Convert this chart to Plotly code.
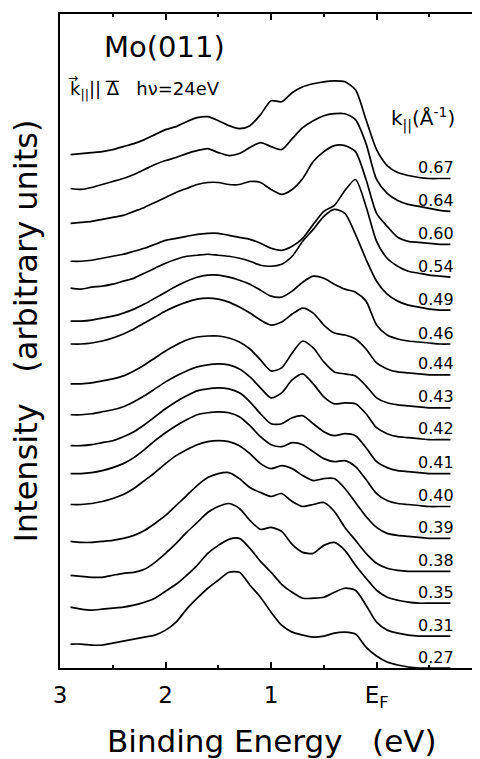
import plotly.graph_objects as go

# Binding energy grid (eV)
ENERGY = [2.9, 2.8, 2.7, 2.6, 2.5, 2.4, 2.3, 2.2, 2.1, 2.0, 1.9, 1.8, 1.7, 1.6, 1.5, 1.4, 1.3, 1.2, 1.1, 1.0,
          0.9, 0.8, 0.7, 0.6, 0.5, 0.4, 0.3, 0.2, 0.1, 0.0, -0.1, -0.2, -0.3, -0.4, -0.5, -0.6, -0.7]

K_LABELS = ["0.67", "0.64", "0.60", "0.54", "0.49", "0.46", "0.44", "0.43",
            "0.42", "0.41", "0.40", "0.39", "0.38", "0.35", "0.31", "0.27"]

# vertical stacking offset of each spectrum (arbitrary units)
OFFSETS = [491, 458, 425, 392, 359, 325, 294, 261, 229, 195, 162, 130, 97, 65, 32, 0]

I_067 = [24, 25, 26, 27, 29, 32, 35, 39, 44, 49, 52, 57, 61, 62, 58, 53, 50, 53, 64, 78, 77, 86, 92, 95, 97, 98, 97, 89, 59, 29, 13, 6, 3, 1, 0, 0, 0]
I_064 = [23, 22, 24, 27, 30, 33, 37, 42, 47, 51, 54, 58, 61, 63, 59, 56, 58, 64, 69, 65, 62, 73, 84, 91, 96, 98, 98, 92, 68, 32, 18, 11, 7, 5, 3, 1, 0]
I_060 = [21, 22, 23, 25, 27, 29, 33, 37, 42, 47, 52, 56, 60, 62, 62, 60, 60, 63, 62, 55, 50, 55, 66, 83, 93, 99, 99, 93, 65, 31, 18, 7, 3, 2, 1, 0, 0]
I_054 = [16, 16, 17, 19, 21, 23, 26, 29, 33, 37, 39, 41, 43, 44, 44, 42, 40, 38, 34, 29, 27, 31, 39, 53, 66, 72, 87, 98, 71, 36, 19, 11, 6, 4, 2, 1, 0]
I_049 = [22, 21, 23, 24, 26, 29, 32, 37, 42, 47, 51, 54, 55, 56, 55, 54, 52, 49, 45, 44, 46, 54, 69, 81, 94, 101, 97, 76, 51, 29, 16, 9, 5, 3, 1, 0, 0]
I_046 = [23, 23, 24, 26, 28, 31, 35, 40, 46, 52, 58, 63, 67, 69, 69, 67, 64, 60, 54, 48, 47, 53, 62, 68, 66, 60, 55, 52, 43, 19, 9, 5, 3, 2, 1, 0, 0]
I_044 = [31, 31, 32, 34, 37, 41, 46, 52, 58, 64, 69, 73, 76, 77, 76, 73, 68, 62, 55, 50, 53, 61, 67, 62, 50, 42, 40, 36, 26, 12, 6, 3, 2, 1, 0, 0, 0]
I_043 = [24, 24, 25, 27, 29, 32, 37, 43, 50, 57, 63, 68, 71, 72, 72, 70, 66, 59, 48, 37, 40, 55, 67, 60, 46, 36, 34, 32, 22, 10, 5, 3, 2, 1, 0, 0, 0]
I_042 = [25, 25, 26, 28, 30, 33, 38, 44, 51, 58, 64, 69, 73, 75, 76, 75, 71, 63, 52, 42, 47, 60, 66, 56, 43, 36, 37, 36, 26, 12, 6, 3, 2, 1, 0, 0, 0]
I_041 = [28, 28, 29, 31, 33, 37, 42, 49, 57, 65, 72, 78, 83, 85, 86, 85, 81, 72, 60, 50, 50, 56, 58, 50, 42, 38, 40, 38, 26, 12, 6, 3, 2, 1, 0, 0, 0]
I_040 = [33, 33, 34, 36, 39, 43, 49, 57, 66, 74, 81, 87, 92, 94, 95, 94, 90, 81, 70, 62, 60, 64, 62, 55, 48, 45, 46, 40, 27, 13, 6, 3, 2, 1, 0, 0, 0]
I_039 = [34, 34, 35, 37, 40, 44, 50, 58, 66, 75, 83, 89, 94, 97, 98, 97, 93, 85, 75, 70, 73, 70, 63, 58, 60, 60, 50, 36, 22, 11, 5, 3, 2, 1, 0, 0, 0]
I_038 = [30, 29, 29, 30, 31, 33, 36, 41, 48, 56, 66, 76, 86, 94, 98, 99, 93, 84, 79, 75, 78, 70, 65, 67, 69, 60, 44, 31, 18, 8, 3, 1, 0, 0, 0, 0, 0]
I_035 = [28, 27, 26, 26, 28, 30, 31, 34, 41, 50, 60, 71, 81, 91, 97, 100, 95, 83, 74, 76, 72, 59, 51, 50, 58, 61, 53, 38, 25, 13, 6, 3, 1, 0, 0, 0, 0]
I_031 = [29, 27, 26, 27, 28, 29, 31, 34, 38, 45, 52, 61, 71, 83, 91, 97, 98, 88, 75, 64, 52, 44, 38, 38, 39, 44, 48, 46, 31, 14, 6, 3, 1, 0, 0, 0, 0]
I_027 = [24, 24, 23, 23, 25, 27, 29, 31, 33, 38, 46, 59, 70, 80, 88, 96, 96, 83, 71, 56, 43, 36, 33, 31, 32, 35, 36, 34, 21, 12, 6, 3, 1, 0, 0, 0, 0]

SPECTRA = [I_067, I_064, I_060, I_054, I_049, I_046, I_044, I_043,
           I_042, I_041, I_040, I_039, I_038, I_035, I_031, I_027]

X_TICKS = [3, 2, 1, 0]
X_TICK_TEXT = ["3", "2", "1", "E<sub>F</sub>"]
X_MINOR = [2.5, 1.5, 0.5, -0.5]

FONT = "DejaVu Sans"

fig = go.Figure()
for lab, off, spec in zip(K_LABELS, OFFSETS, SPECTRA):
    fig.add_trace(go.Scatter(
        x=ENERGY, y=[off + v for v in spec], mode="lines",
        line=dict(color="black", width=1.7, shape="spline", smoothing=0.7),
        hoverinfo="skip", showlegend=False))
    fig.add_annotation(x=-0.56, y=off + 11, text=lab, showarrow=False,
                       xanchor="center", yanchor="middle",
                       font=dict(family=FONT, size=16, color="black"))

fig.add_annotation(xref="paper", yref="paper", x=0.10, y=0.95, text="Mo(011)",
                   showarrow=False, xanchor="left", yanchor="middle",
                   font=dict(family=FONT, size=29, color="black"))
fig.add_annotation(xref="paper", yref="paper", x=0.019, y=0.884,
                   text="k<sub>||</sub>|| \u0394   h\u03bd=24eV",
                   showarrow=False, xanchor="left", yanchor="middle",
                   font=dict(family=FONT, size=18, color="black"))
# vector arrow over k
fig.add_annotation(xref="paper", yref="paper", x=0.032, y=0.902, text="\u2192",
                   showarrow=False, xanchor="center", yanchor="middle",
                   font=dict(family=FONT, size=12, color="black"))
# bar over Delta
fig.add_shape(type="line", xref="paper", yref="paper", x0=0.109, x1=0.140,
              y0=0.897, y1=0.897, line=dict(color="black", width=1.3))
fig.add_annotation(xref="paper", yref="paper", x=0.783, y=0.84,
                   text="k<sub>||</sub>(\u00c5<sup>-1</sup>)",
                   showarrow=False, xanchor="left", yanchor="middle",
                   font=dict(family=FONT, size=20, color="black"))
fig.add_annotation(xref="paper", yref="paper", x=-0.08, y=0.515,
                   text="Intensity   (arbitrary units)", textangle=-90,
                   showarrow=False, xanchor="center", yanchor="middle",
                   font=dict(family=FONT, size=32, color="black"))
fig.add_annotation(xref="paper", yref="paper", x=0.505, y=-0.112,
                   text="Binding Energy   (eV)",
                   showarrow=False, xanchor="center", yanchor="middle",
                   font=dict(family=FONT, size=31, color="black"))

fig.update_layout(
    width=480, height=759,
    margin=dict(l=52, r=8, t=4, b=99),
    paper_bgcolor="white", plot_bgcolor="white",
    font=dict(family=FONT, color="black"),
    xaxis=dict(range=[3, -0.98], tickvals=X_TICKS, ticktext=X_TICK_TEXT,
               ticks="inside", ticklen=6, tickwidth=1.5, tickcolor="black",
               showline=True, linecolor="black", linewidth=1.5, mirror="allticks",
               showgrid=False, zeroline=False, ticklabelstandoff=6,
               tickfont=dict(family=FONT, size=23, color="black"),
               minor=dict(tickvals=X_MINOR, ticks="inside", ticklen=3,
                          tickwidth=1.5, tickcolor="black", showgrid=False)),
    yaxis=dict(range=[0, 656], showticklabels=False, ticks="",
               showline=True, linecolor="black", linewidth=1.5, mirror=False,
               showgrid=False, zeroline=False),
)

fig.write_html("out.html")
